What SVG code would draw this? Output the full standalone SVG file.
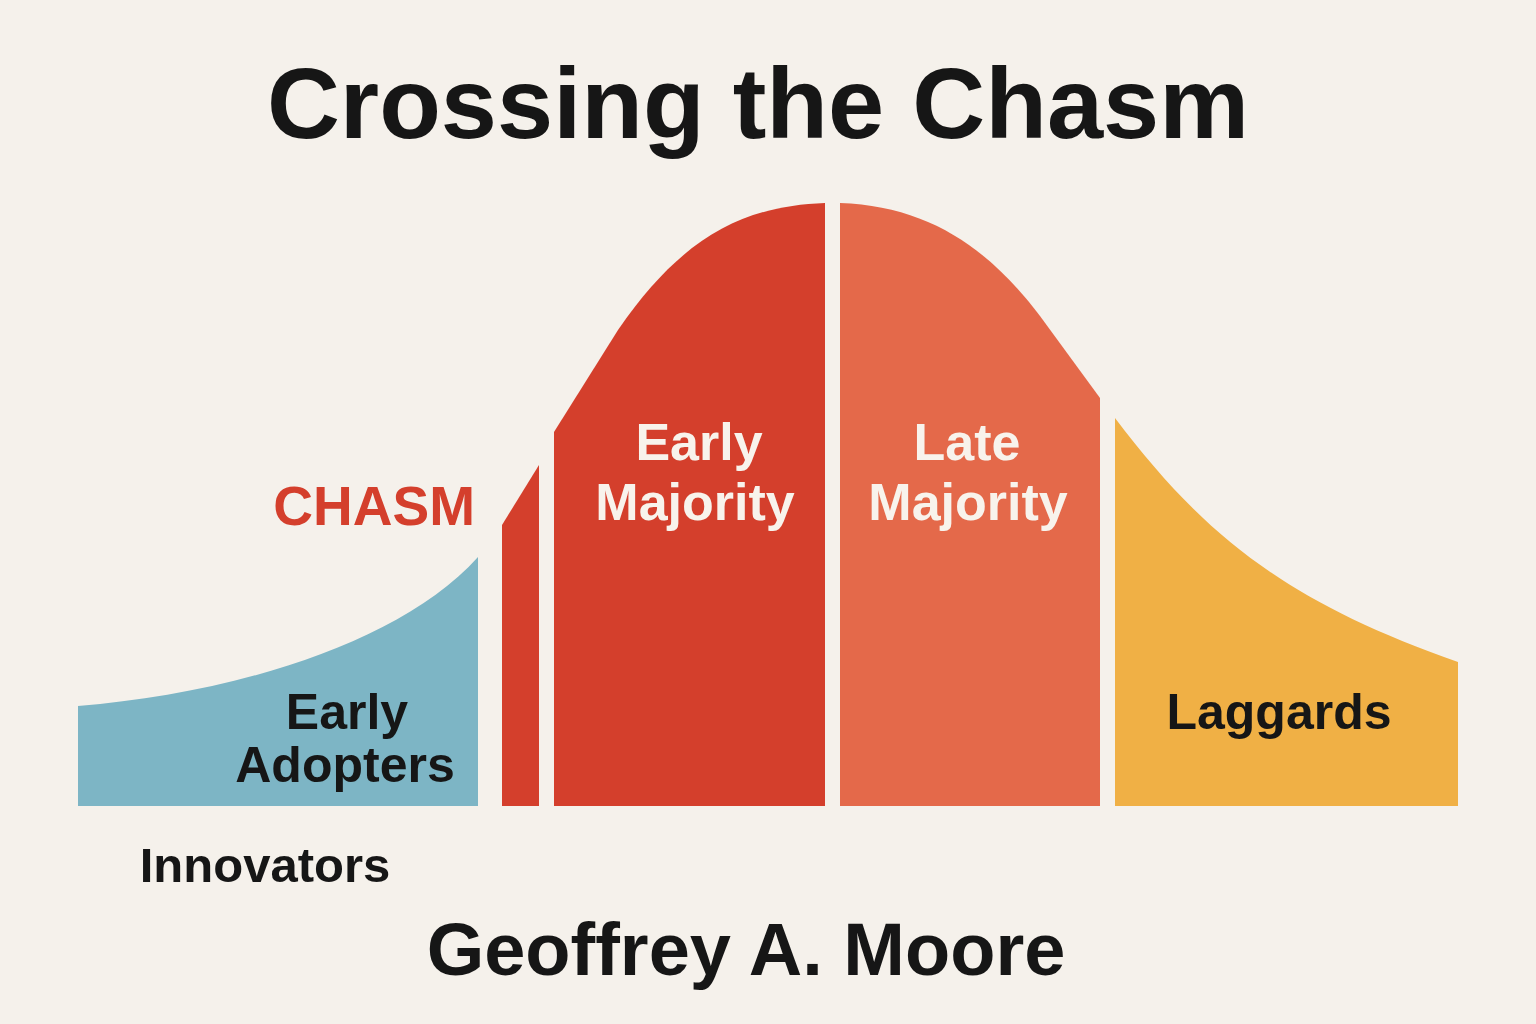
<svg xmlns="http://www.w3.org/2000/svg" width="1536" height="1024" viewBox="0 0 1536 1024">
<style>
.t{font-family:"Liberation Sans",Arial,sans-serif;font-weight:bold}
.dark{fill:#161616}
.white{fill:#F8F3EC}
</style>
<rect width="1536" height="1024" fill="#F5F1EB"/>
<text class="t dark" x="758" y="138" font-size="101" text-anchor="middle">Crossing the Chasm</text>
<g id="innovators">
<text class="t dark" x="265" y="882" font-size="49" text-anchor="middle">Innovators</text>
</g>
<g id="early-adopters">
<path d="M78,706 C230,694 400,644 478,557 L478,806 L78,806 Z" fill="#7DB5C5"/>
<text class="t dark" x="347" y="729" font-size="50" text-anchor="middle">Early</text>
<text class="t dark" x="345" y="782" font-size="50" text-anchor="middle">Adopters</text>
</g>
<g id="chasm">
<path d="M502,525 L539,465 L539,806 L502,806 Z" fill="#D43F2C"/>
<text class="t" x="475" y="525" font-size="55" text-anchor="end" fill="#D43F2C">CHASM</text>
</g>
<g id="early-majority">
<path d="M554,432 L618,330 C680,240 740,206 825,203 L825,806 L554,806 Z" fill="#D43F2C"/>
<text class="t white" x="699" y="460" font-size="52" text-anchor="middle">Early</text>
<text class="t white" x="695" y="520" font-size="52" text-anchor="middle">Majority</text>
</g>
<g id="late-majority">
<path d="M840,203 C930,206 990,250 1040,316 L1100,398 L1100,806 L840,806 Z" fill="#E4694A"/>
<text class="t white" x="967" y="460" font-size="52" text-anchor="middle">Late</text>
<text class="t white" x="968" y="520" font-size="52" text-anchor="middle">Majority</text>
</g>
<g id="laggards">
<path d="M1115,418 C1200,530 1280,600 1458,662 L1458,806 L1115,806 Z" fill="#F0B045"/>
<text class="t dark" x="1279" y="729" font-size="50" text-anchor="middle">Laggards</text>
</g>
<g id="connectors"></g>
<text class="t dark" x="746" y="975" font-size="74" text-anchor="middle">Geoffrey A. Moore</text>
</svg>
